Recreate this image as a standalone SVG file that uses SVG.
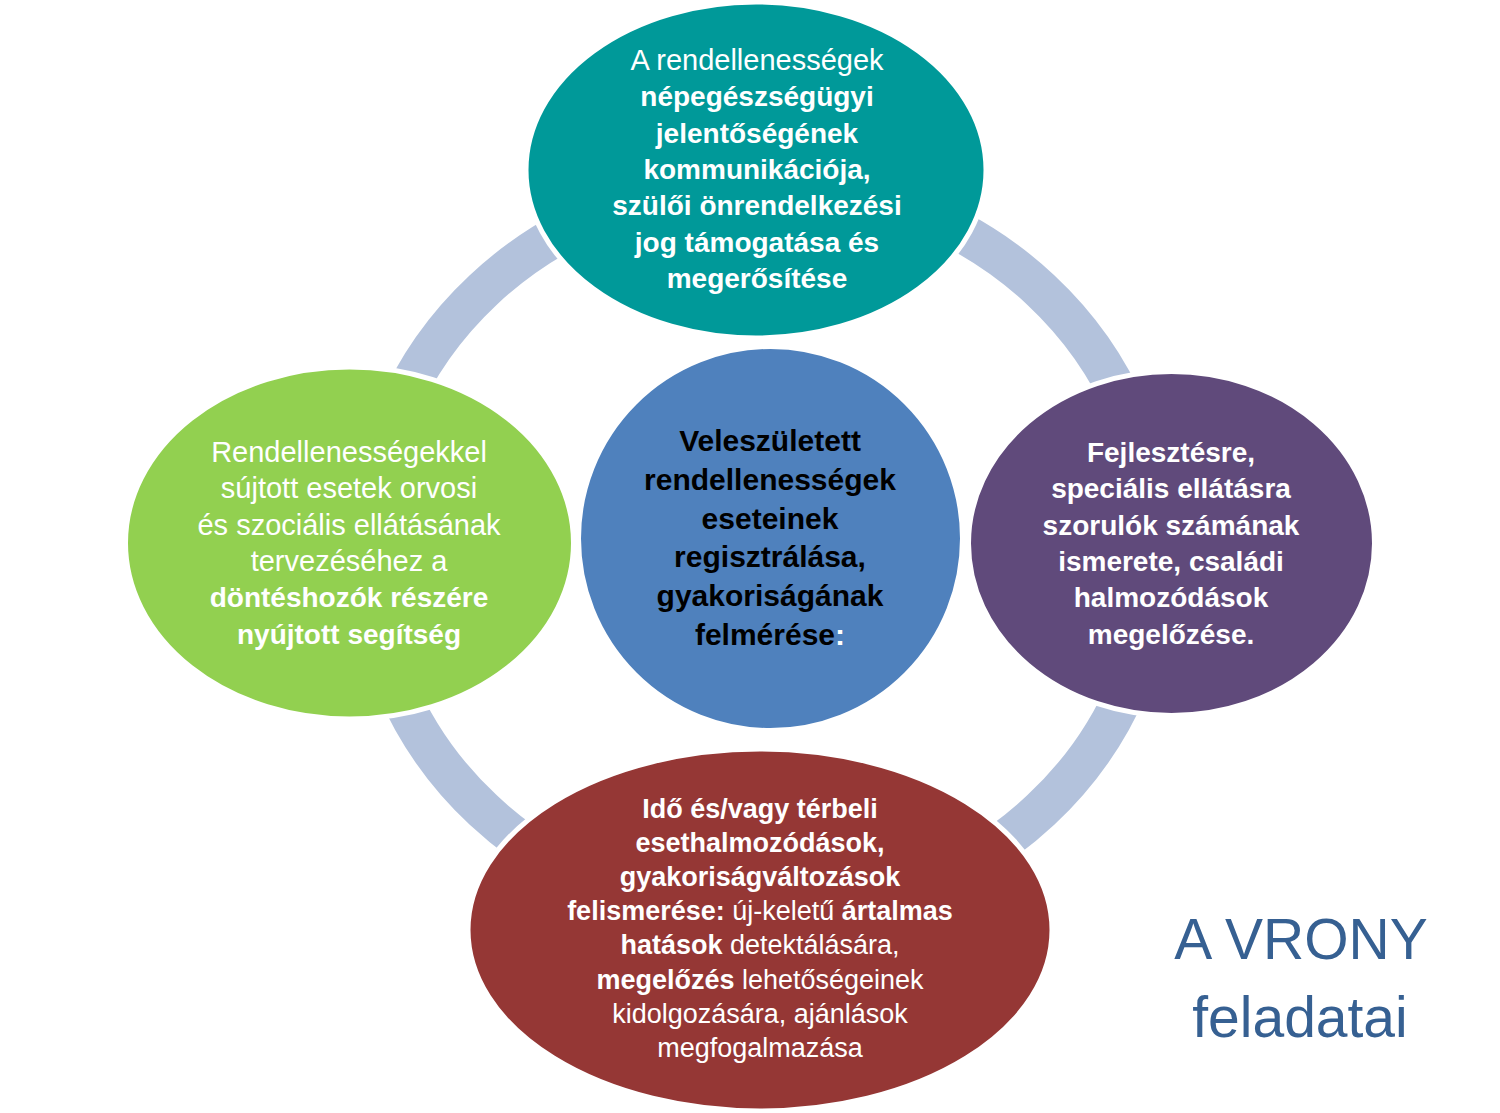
<svg xmlns="http://www.w3.org/2000/svg" width="1500" height="1113" viewBox="0 0 1500 1113">
<style>
.node{stroke:#ffffff;stroke-width:5}
.t{font-family:"Liberation Sans",Arial,sans-serif;font-size:28px;text-anchor:middle;fill:#ffffff}
.r{font-weight:normal;font-size:29px}
.b{font-weight:bold}
.arc{fill:none;stroke:#B3C2DC;stroke-width:40}
.title{font-family:"Liberation Sans",Arial,sans-serif;font-size:57px;text-anchor:middle;fill:#366092}
</style>
<rect width="1500" height="1113" fill="#ffffff"/>
<g id="connectors">
<path class="arc" d="M 762 182 A 394 368 0 0 1 1156 550"/>
<path class="arc" d="M 1156 550 A 394 368 0 0 1 762 918"/>
<path class="arc" d="M 762 918 A 394 368 0 0 1 368 550"/>
<path class="arc" d="M 368 550 A 394 368 0 0 1 762 182"/>
</g>
<g id="node-top">
<ellipse class="node" cx="756" cy="170" rx="230" ry="168" fill="#009999"/>
<text class="t"><tspan class="r" x="757" y="70">A rendellenességek</tspan><tspan class="b" x="757" y="106">népegészségügyi</tspan><tspan class="b" x="757" y="143">jelentőségének</tspan><tspan class="b" x="757" y="179">kommunikációja,</tspan><tspan class="b" x="757" y="215">szülői önrendelkezési</tspan><tspan class="b" x="757" y="252">jog támogatása és</tspan><tspan class="b" x="757" y="288">megerősítése</tspan></text>
</g>
<g id="node-left">
<ellipse class="node" cx="349.5" cy="543" rx="224" ry="176" fill="#92D050"/>
<text class="t"><tspan class="r" x="349" y="462">Rendellenességekkel</tspan><tspan class="r" x="349" y="498">sújtott esetek orvosi</tspan><tspan class="r" x="349" y="535">és szociális ellátásának</tspan><tspan class="r" x="349" y="571">tervezéséhez a</tspan><tspan class="b" x="349" y="607">döntéshozók részére</tspan><tspan class="b" x="349" y="644">nyújtott segítség</tspan></text>
</g>
<g id="node-right">
<ellipse class="node" cx="1171.5" cy="543.5" rx="203" ry="172" fill="#604A7B"/>
<text class="t b"><tspan x="1171" y="462">Fejlesztésre,</tspan><tspan x="1171" y="498">speciális ellátásra</tspan><tspan x="1171" y="535">szorulók számának</tspan><tspan x="1171" y="571">ismerete, családi</tspan><tspan x="1171" y="607">halmozódások</tspan><tspan x="1171" y="644">megelőzése.</tspan></text>
</g>
<g id="node-center">
<circle class="node" cx="770.5" cy="538.5" r="192" fill="#4F81BD"/>
<text class="t b" style="font-size:30px;fill:#000000"><tspan x="770" y="451">Veleszületett</tspan><tspan x="770" y="490">rendellenességek</tspan><tspan x="770" y="529">eseteinek</tspan><tspan x="770" y="567">regisztrálása,</tspan><tspan x="770" y="606">gyakoriságának</tspan><tspan x="770" y="645">felmérése<tspan fill="#ffffff">:</tspan></tspan></text>
</g>
<g id="node-bottom">
<ellipse class="node" cx="760" cy="930" rx="292" ry="181" fill="#953735"/>
<text class="t" style="font-size:27px"><tspan class="b" x="760" y="818">Idő és/vagy térbeli</tspan><tspan class="b" x="760" y="852">esethalmozódások,</tspan><tspan class="b" x="760" y="886">gyakoriságváltozások</tspan><tspan x="760" y="920"><tspan class="b">felismerése:</tspan> új-keletű <tspan class="b">ártalmas</tspan></tspan><tspan x="760" y="954"><tspan class="b">hatások</tspan> detektálására,</tspan><tspan x="760" y="989"><tspan class="b">megelőzés</tspan> lehetőségeinek</tspan><tspan x="760" y="1023">kidolgozására, ajánlások</tspan><tspan x="760" y="1057">megfogalmazása</tspan></text>
</g>
<g id="title">
<text class="title"><tspan x="1301" y="959">A VRONY</tspan><tspan x="1300" y="1037">feladatai</tspan></text>
</g>
</svg>
